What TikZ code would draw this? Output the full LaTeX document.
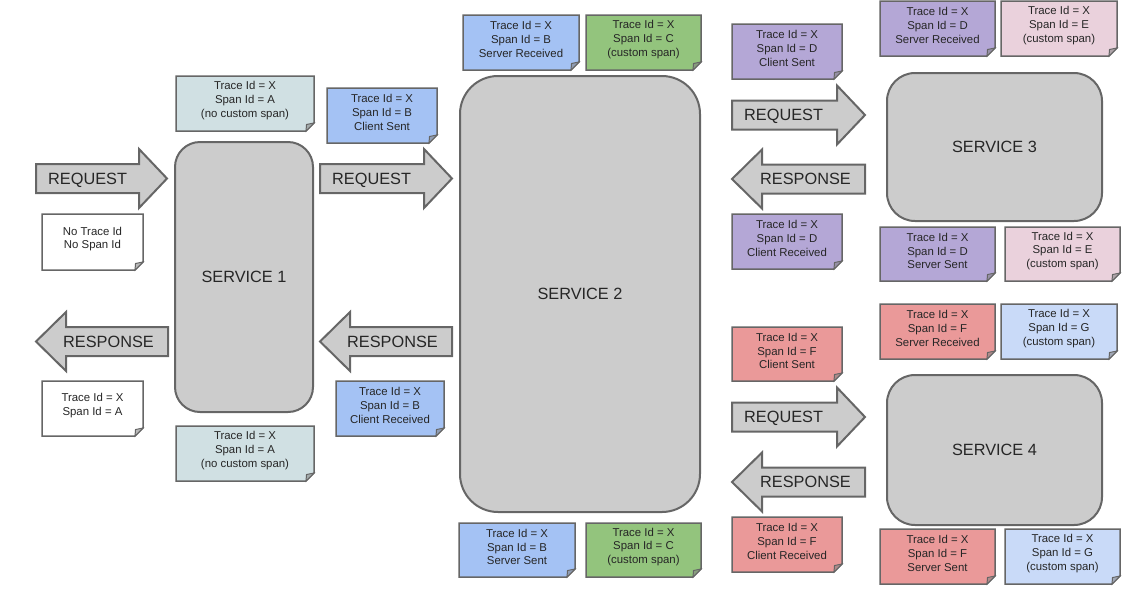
\documentclass[tikz,border=0pt]{standalone}
\usepackage{fontspec}
\setmainfont{Liberation Sans}
\begin{document}
\definecolor{edge}{HTML}{666666}
\definecolor{boxgray}{HTML}{CCCCCC}
\definecolor{ink}{HTML}{262626}
\definecolor{spanA}{HTML}{D0E0E3}
\definecolor{spanB}{HTML}{A4C2F4}
\definecolor{spanC}{HTML}{93C47D}
\definecolor{spanD}{HTML}{B4A7D6}
\definecolor{spanE}{HTML}{EAD1DC}
\definecolor{spanF}{HTML}{EA9999}
\definecolor{spanG}{HTML}{C9DAF8}
\tikzset{
  service/.style={draw=edge, line width=2pt, fill=boxgray, text=ink,
    font=\fontsize{16.3}{18}\selectfont, inner sep=0pt},
  blockarrow/.style={draw=edge, line width=2pt, fill=boxgray, line join=miter},
  arrowtext/.style={text=ink, font=\fontsize{16.3}{18}\selectfont, inner sep=0pt},
  notebox/.style={draw=edge, line width=1.5pt, line join=miter},
  foldflap/.style={draw=edge, line width=1pt},
  notetext/.style={text=ink, align=center, inner sep=0pt,
    font=\fontsize{11.4}{13.6}\selectfont},
}
% sticky note with a folded bottom-right corner: name, x0, y0, x1, y1, fill, text
\newcommand{\spannote}[7]{%
  \filldraw[notebox, fill=#6] (#2,#3) -- (#4,#3) -- (#4,{#5-8}) -- ({#4-8},#5) -- (#2,#5) -- cycle;
  \filldraw[foldflap, fill=#6!45!gray] (#4,{#5-8}) -- ({#4-7.5},{#5-6.5}) -- ({#4-8},#5) -- cycle;
  \node[notetext] (#1) at ({(#2+#4)/2},{(#3+#5)/2-3}) {#7};
}
% block arrow pointing right: name, left x, tip x, mid y, label
\newcommand{\rightblock}[5]{%
  \filldraw[blockarrow] (#2,{#4-14.5}) -- ({#3-28},{#4-14.5}) -- ({#3-28},{#4-29.5})
    -- (#3,#4) -- ({#3-28},{#4+29.5}) -- ({#3-28},{#4+14.5}) -- (#2,{#4+14.5}) -- cycle;
  \node[arrowtext, anchor=base west] (#1) at ({#2+12},{#4+5.8}) {#5};
}
% block arrow pointing left: name, tip x, right x, mid y, label
\newcommand{\leftblock}[5]{%
  \filldraw[blockarrow] (#3,{#4-14.5}) -- ({#2+30},{#4-14.5}) -- ({#2+30},{#4-29.5})
    -- (#2,#4) -- ({#2+30},{#4+29.5}) -- ({#2+30},{#4+14.5}) -- (#3,{#4+14.5}) -- cycle;
  \node[arrowtext, anchor=base east] (#1) at ({#3-14},{#4+5.8}) {#5};
}
\begin{tikzpicture}[x=1pt,y=-1pt]
\useasboundingbox (0,0) rectangle (1140,598);

% services
\node[service, minimum width=138pt, minimum height=270pt, rounded corners=25pt] (s1) at (244,277) {SERVICE 1};
\node[service, minimum width=240pt, minimum height=436pt, rounded corners=38pt] (s2) at (580,294) {SERVICE 2};
\node[service, minimum width=215pt, minimum height=148pt, rounded corners=28pt] (s3) at (994.5,147) {SERVICE 3};
\node[service, minimum width=215pt, minimum height=150pt, rounded corners=28pt] (s4) at (994.5,450) {SERVICE 4};

% requests and responses
\rightblock{req1}{36}{167}{178.5}{REQUEST}
\rightblock{req2}{320}{452}{178.5}{REQUEST}
\rightblock{req3}{732}{865}{115}{REQUEST}
\rightblock{req4}{732}{865}{417}{REQUEST}
\leftblock{resp1}{36}{168}{341.5}{RESPONSE}
\leftblock{resp2}{320}{452}{341.5}{RESPONSE}
\leftblock{resp3}{732}{865}{179}{RESPONSE}
\leftblock{resp4}{732}{865}{482}{RESPONSE}

% service 1 and its caller
\spannote{inNone}{42}{214}{143}{270}{white}{No Trace Id\\No Span Id}
\spannote{outA}{42}{381}{143}{436}{white}{Trace Id = X\\Span Id = A}
\spannote{aTop}{176}{76}{314}{131}{spanA}{Trace Id = X\\Span Id = A\\(no custom span)}
\spannote{aBot}{176}{426}{314}{481}{spanA}{Trace Id = X\\Span Id = A\\(no custom span)}

% service 1 -> service 2
\spannote{bCS}{327}{88}{437}{143}{spanB}{Trace Id = X\\Span Id = B\\Client Sent}
\spannote{bCR}{336}{381}{444}{436}{spanB}{Trace Id = X\\Span Id = B\\Client Received}
\spannote{bSR}{463}{15}{579}{70}{spanB}{Trace Id = X\\Span Id = B\\Server Received}
\spannote{cTop}{586}{15}{701}{70}{spanC}{Trace Id = X\\Span Id = C\\(custom span)}
\spannote{bSS}{459}{523}{575}{577}{spanB}{Trace Id = X\\Span Id = B\\Server Sent}
\spannote{cBot}{586}{523}{701}{577}{spanC}{Trace Id = X\\Span Id = C\\(custom span)}

% service 2 -> service 3
\spannote{dCS}{732}{24}{842}{79}{spanD}{Trace Id = X\\Span Id = D\\Client Sent}
\spannote{dCR}{732}{214}{842}{269}{spanD}{Trace Id = X\\Span Id = D\\Client Received}
\spannote{dSR}{880}{1}{995}{56}{spanD}{Trace Id = X\\Span Id = D\\Server Received}
\spannote{eTop}{1001}{1}{1117}{56}{spanE}{Trace Id = X\\Span Id = E\\(custom span)}
\spannote{dSS}{880}{227}{995}{281}{spanD}{Trace Id = X\\Span Id = D\\Server Sent}
\spannote{eBot}{1005}{227}{1120}{281}{spanE}{Trace Id = X\\Span Id = E\\(custom span)}

% service 2 -> service 4
\spannote{fCS}{732}{327}{842}{381}{spanF}{Trace Id = X\\Span Id = F\\Client Sent}
\spannote{fCR}{732}{517}{842}{572}{spanF}{Trace Id = X\\Span Id = F\\Client Received}
\spannote{fSR}{880}{304}{995}{359}{spanF}{Trace Id = X\\Span Id = F\\Server Received}
\spannote{gTop}{1001}{304}{1117}{359}{spanG}{Trace Id = X\\Span Id = G\\(custom span)}
\spannote{fSS}{880}{529}{995}{584}{spanF}{Trace Id = X\\Span Id = F\\Server Sent}
\spannote{gBot}{1005}{529}{1120}{584}{spanG}{Trace Id = X\\Span Id = G\\(custom span)}
\end{tikzpicture}
\end{document}
